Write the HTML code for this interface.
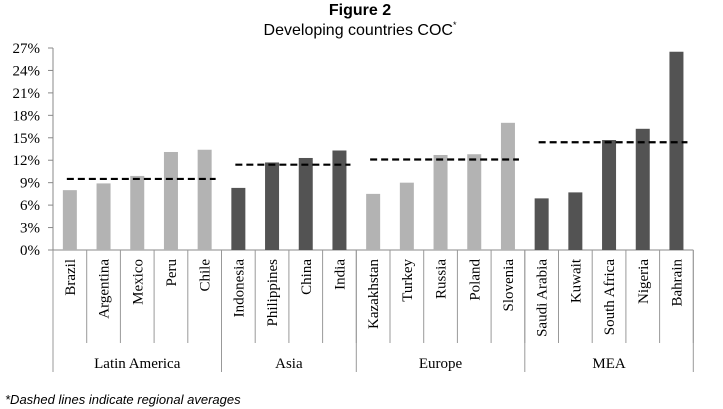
<!DOCTYPE html>
<html><head><meta charset="utf-8"><style>
body{margin:0;background:#fff;width:723px;height:409px;overflow:hidden}
svg{display:block}
</style></head><body>
<svg id="chart" width="723" height="409">
<text x="360" y="15" text-anchor="middle" font-family="Liberation Sans, sans-serif" font-weight="bold" font-size="16">Figure 2</text>
<text x="360" y="35" text-anchor="middle" font-family="Liberation Sans, sans-serif" font-size="16">Developing countries COC<tspan dy="-7" font-size="9">*</tspan></text>
<text x="5" y="404" font-family="Liberation Sans, sans-serif" font-style="italic" font-size="13">*Dashed lines indicate regional averages</text>
<g id="plot"></g>
</svg>
<script>
const categories=["Brazil","Argentina","Mexico","Peru","Chile","Indonesia","Philippines","China","India","Kazakhstan","Turkey","Russia","Poland","Slovenia","Saudi Arabia","Kuwait","South Africa","Nigeria","Bahrain"];
const values=[8.0,8.9,9.9,13.1,13.4,8.3,11.7,12.3,13.3,7.5,9.0,12.7,12.8,17.0,6.9,7.7,14.7,16.2,26.5];
const regions=["Latin America","Asia","Europe","MEA"];
const regionSizes=[5,4,5,5];
const regionAverages=[9.5,11.4,12.1,14.4];
const yTicks=[0,3,6,9,12,15,18,21,24,27];
const yTickLabels=["0%","3%","6%","9%","12%","15%","18%","21%","24%","27%"];

const NS="http://www.w3.org/2000/svg";
const g=document.getElementById('plot');
const X0=53,CW=33.7,Y0=250,YMAX=27,PH=202;
const y=v=>Y0-v/YMAX*PH;
const x=i=>X0+i*CW;
function mk(t,a){const e=document.createElementNS(NS,t);for(const k in a)e.setAttribute(k,a[k]);g.appendChild(e);return e;}
const N=categories.length;
let ax=mk('line',{x1:X0,y1:y(YMAX),x2:X0,y2:Y0,stroke:'#888','stroke-width':1});


yTicks.forEach((t,i)=>{
  const tk=mk('line',{x1:X0-5,x2:X0,y1:y(t),y2:y(t),stroke:'#888'});
  
  
  const tx=mk('text',{x:40,y:y(t)+5,'text-anchor':'end','font-family':'Liberation Serif, serif','font-size':15});
  tx.textContent=yTickLabels[i];
  
  
});
let xa=mk('line',{x1:X0-5,y1:Y0,x2:x(N),y2:Y0,stroke:'#888'});


const regionOf=[];
regionSizes.forEach((s,r)=>{for(let k=0;k<s;k++)regionOf.push(r);});
categories.forEach((c,i)=>{
  const r=regionOf[i];
  const col=(r%2===0)?'#b3b3b3':'#535353';
  const b=mk('rect',{x:x(i)+CW/2-7,y:y(values[i]),width:14,height:Y0-y(values[i]),fill:col});
  
  
  const t=mk('text',{transform:`translate(${x(i)+CW/2+5},259) rotate(-90)`,'text-anchor':'end','font-family':'Liberation Serif, serif','font-size':15});
  t.textContent=c;
  
  
});
for(let i=1;i<=N;i++){
  const d=mk('line',{x1:x(i),x2:x(i),y1:Y0,y2:343,stroke:'#999'});
  
  
}
let cum=0;
const bounds=[0];
regionSizes.forEach(s=>{cum+=s;bounds.push(cum);});
bounds.forEach(b=>{
  const d=mk('line',{x1:x(b),x2:x(b),y1:Y0,y2:372,stroke:'#999'});
  
  
});
regions.forEach((r,k)=>{
  const a=bounds[k],b=bounds[k+1];
  const t=mk('text',{x:(x(a)+x(b))/2,y:368,'text-anchor':'middle','font-family':'Liberation Serif, serif','font-size':15});
  t.textContent=r;
  
  
  const l=mk('line',{x1:x(a)+CW/2-3,x2:x(b)-CW/2+11,y1:y(regionAverages[k]),y2:y(regionAverages[k]),stroke:'#000','stroke-width':2.2,'stroke-dasharray':'7,4'});
  
  
});
</script>
</body></html>
